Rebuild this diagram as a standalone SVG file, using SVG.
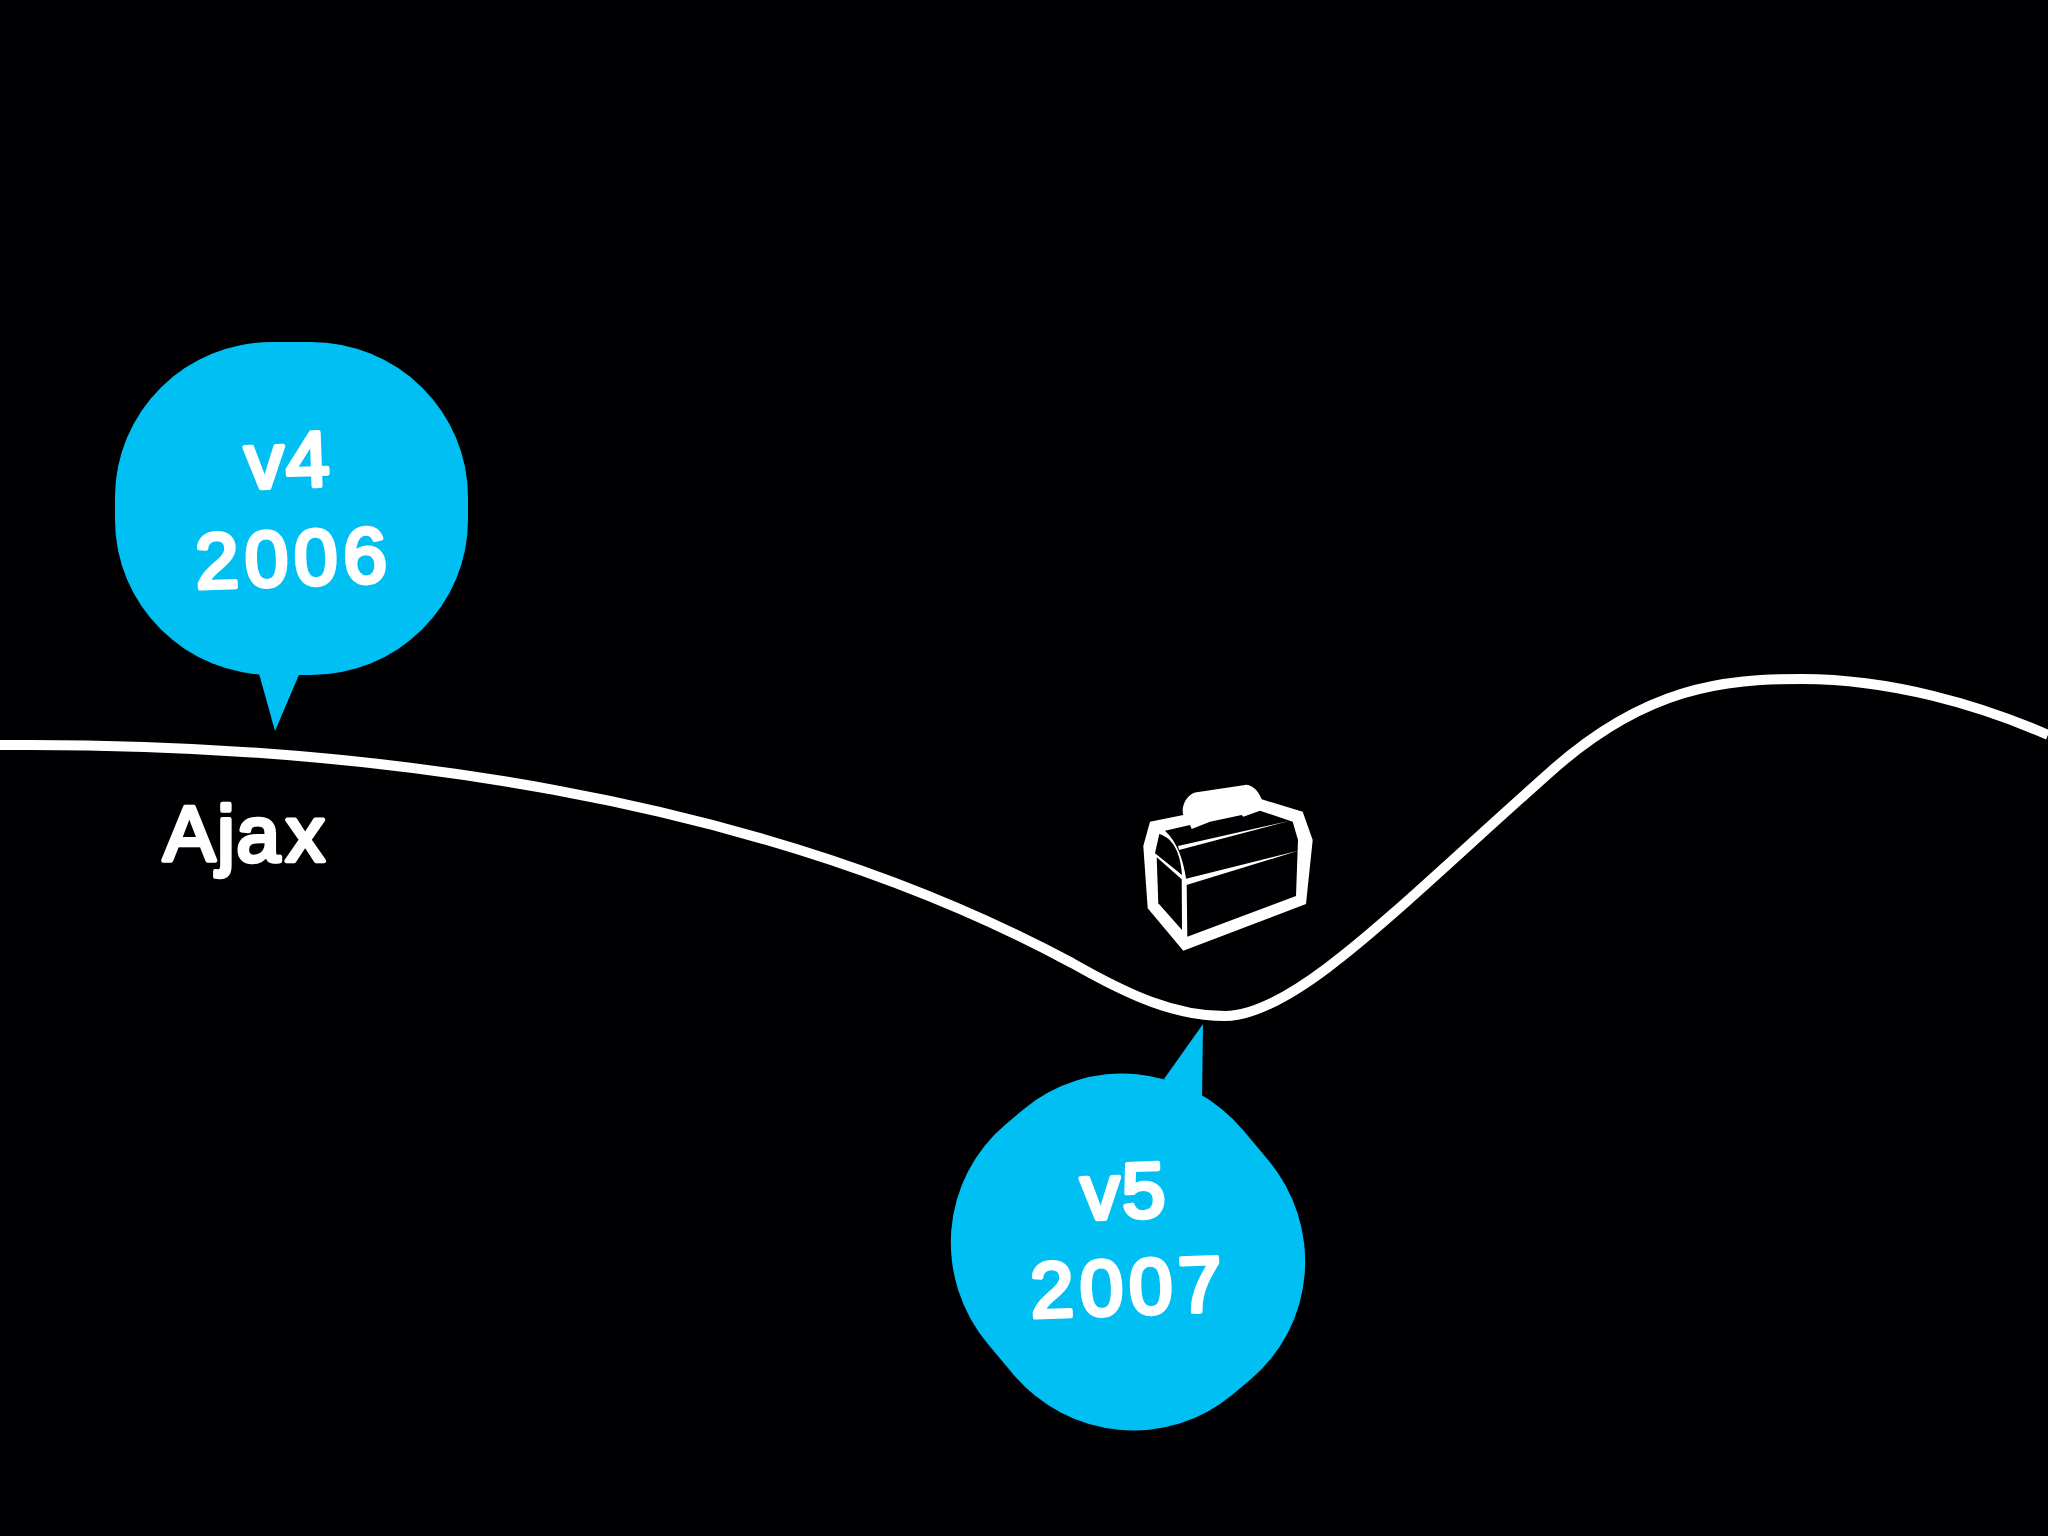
<svg xmlns="http://www.w3.org/2000/svg" width="2048" height="1536" viewBox="0 0 2048 1536">
<style>
.b{fill:#00bff3}
.t{font-family:"Liberation Sans",Arial,sans-serif;font-weight:400;font-size:78px;fill:#fff;stroke:#fff;stroke-width:4.5px;stroke-linejoin:round;text-anchor:middle;letter-spacing:6px}
.a{letter-spacing:2px}
.k{fill:#000003}
.w{fill:#fff}
</style>
<rect width="2048" height="1536" fill="#000003"/>
<g id="connectors">
<path d="M0 745 C360 742 760 795 1072 963 C1130 996 1175 1016 1225 1016 C1295 1016 1400 905 1548 774 C1645 686 1725 679 1802 679 C1890 679 1980 705 2048 735" fill="none" stroke="#fff" stroke-width="10"/>
</g>
<g id="v4">
<rect class="b" x="115" y="342" width="353" height="333" rx="157" ry="155"/>
<path class="b" d="M258 670 L275 731 L301 670Z"/>
<text class="t a" transform="translate(289 487) rotate(-2)">v4</text>
<text class="t" transform="translate(295 585) rotate(-2)">2006</text>
</g>
<g id="ajax">
<text class="t a" x="245" y="861">Aja<tspan dx="4">x</tspan></text>
</g>
<g id="chest">
<path class="w" d="M1150 821.7 L1143.3 846 L1147.7 908.3 L1183.3 950.7 L1306 904 L1312.7 840 L1302.7 811.7 L1261.7 799.3 C1257 787 1248 784 1245 785 L1195 792.5 C1185 796 1181 808 1183.3 815Z"/>
<path class="k" d="M1159.3 834 L1155 853.3 L1182 875 C1180 850 1172 838 1159.3 834Z"/>
<path class="k" d="M1156.7 857.3 L1181.7 879.3 L1182 930 L1158.3 903.3Z"/>
<path class="k" d="M1165 830.7 L1190 825 L1191.7 829 L1210 821.7 L1241.7 815 L1243.3 816.7 L1260 810.7 L1292.7 821.7 L1298 840 L1296 896 L1187.3 936.7 L1186.7 884 L1186 878 C1183 860 1178 843 1165 830.7Z"/>
<path class="w" d="M1178 846 L1290 820.7 L1179 850Z"/>
<path class="w" d="M1185 879 L1299 850.5 L1186.5 885Z"/>
</g>
<g id="v5">
<rect class="b" x="951.5" y="1085.5" width="353" height="333" rx="157" ry="155" transform="rotate(50 1128 1252)"/>
<path class="b" d="M1164 1079 L1203 1024 L1202 1100Z"/>
<text class="t a" transform="translate(1125 1218) rotate(-2)">v5</text>
<text class="t" transform="translate(1130 1314) rotate(-2)">2007</text>
</g>
</svg>
